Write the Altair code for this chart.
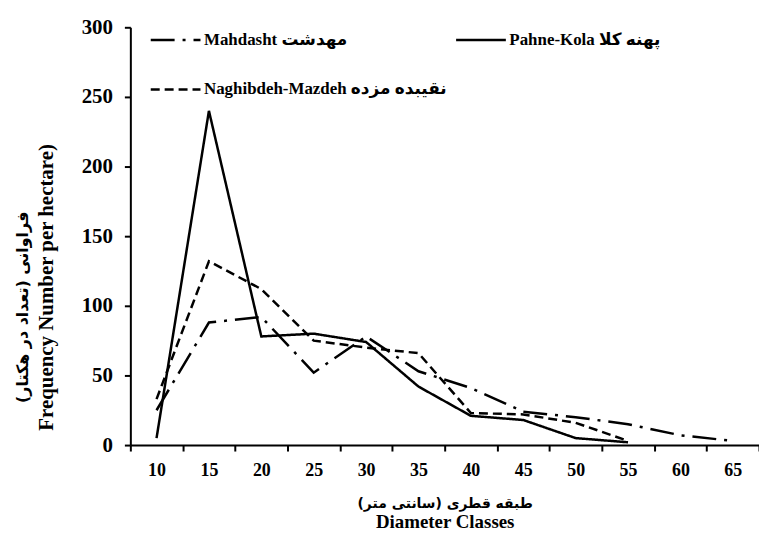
import altair as alt
import pandas as pd

diameters = ["10", "15", "20", "25", "30", "35", "40", "45", "50", "55", "60", "65"]
mahdasht = [25, 88, 92, 52, 78, 53, 41, 24, 20, 15, 7, 3]
pahne_kola = [5, 240, 78, 80, 74, 42, 21, 18, 5, 2]
naghibdeh = [33, 132, 112, 75, 70, 66, 23, 22, 16, 3]
series_names = ["Mahdasht مهدشت", "Pahne-Kola پهنه کلا", "Naghibdeh-Mazdeh نقیبده مزده"]
legend_order = ["Mahdasht مهدشت", "Naghibdeh-Mazdeh نقیبده مزده", "Pahne-Kola پهنه کلا"]
y_ticks = [0, 50, 100, 150, 200, 250, 300]
x_title_fa = "طبقه قطری (سانتی متر)"
x_title_en = "Diameter Classes"
y_title_fa = "فراوانی (تعداد در هکتار)"
y_title_en = "Frequency Number per hectare)"

rows = []
for name, vals in zip(series_names, [mahdasht, pahne_kola, naghibdeh]):
    for i, v in enumerate(vals):
        rows.append({"d": diameters[i], "v": v, "s": name, "i": i})
df = pd.DataFrame(rows)

FONT = "Liberation Serif, DejaVu Serif, DejaVu Sans"
FA_FONT = "DejaVu Sans"

x_scale = alt.Scale(type="band", domain=diameters, paddingInner=0, paddingOuter=0)
y_scale = alt.Scale(domain=[0, 300], nice=False)

lines = alt.Chart(df).mark_line(strokeWidth=2.5, color="black").encode(
    x=alt.X(
        "d:O", sort=diameters, bandPosition=0.5, scale=x_scale,
        axis=alt.Axis(
            orient="bottom",
            title=x_title_fa,
            tickBand="extent",
            labelAngle=0,
            labelFont=FONT, labelFontSize=18, labelFontWeight="bold", labelColor="black",
            labelPadding=11,
            titleFont=FA_FONT, titleFontSize=14, titleFontWeight="bold", titleColor="black",
            titlePadding=17,
        ),
    ),
    y=alt.Y(
        "v:Q", scale=y_scale,
        axis=alt.Axis(
            orient="left",
            values=y_ticks,
            grid=False,
            title=y_title_en,
            titleY=261,
            labelFont=FONT, labelFontSize=21, labelFontWeight="bold", labelColor="black",
            labelPadding=12,
            titleFont=FONT, titleFontSize=21, titleFontWeight="bold", titleColor="black",
            titlePadding=25,
        ),
    ),
    strokeDash=alt.StrokeDash(
        "s:N",
        sort=series_names,
        scale=alt.Scale(domain=series_names, range=[[24, 8, 3, 8], [1, 0], [9, 5]]),
        legend=alt.Legend(
            title=None,
            values=legend_order,
            orient="none",
            legendX=19,
            legendY=-14,
            columns=2,
            columnPadding=3,
            rowPadding=15,
            symbolType="stroke",
            symbolSize=2500,
            symbolStrokeWidth=2.5,
            symbolStrokeColor="black",
            labelFont=FONT,
            labelFontSize=17,
            labelFontWeight="bold",
            labelColor="black",
            labelLimit=400,
            labelOffset=2,
        ),
    ),
    order=alt.Order("i:Q"),
)

ghost = alt.Chart(df).mark_line(opacity=0).encode(
    x=alt.X(
        "d:O", sort=diameters, bandPosition=0.5, scale=x_scale,
        axis=alt.Axis(
            orient="bottom", offset=64,
            title=x_title_en, domain=False, ticks=False, labels=False,
            titleFont=FONT, titleFontSize=19, titleFontWeight="bold", titleColor="black",
            titlePadding=4,
        ),
    ),
    y=alt.Y(
        "v:Q", scale=y_scale,
        axis=alt.Axis(
            orient="left", offset=98,
            title=y_title_fa, domain=False, ticks=False, labels=False, grid=False,
            titleY=281,
            titleFont=FA_FONT, titleFontSize=16, titleFontWeight="bold", titleColor="black",
            titlePadding=2,
        ),
    ),
    detail="s:N",
)

chart = alt.layer(lines, ghost).resolve_axis(x="independent", y="independent").properties(
    width=632,
    height=420,
    autosize=alt.AutoSizeParams(type="none"),
    padding={"left": 123, "top": 18, "right": 0, "bottom": 85},
).configure_view(stroke=None).configure_axis(
    domainColor="black", domainWidth=2, tickColor="black", tickWidth=2, tickSize=6,
)

chart.save("out.html", embed_options={"renderer": "svg", "actions": False})
